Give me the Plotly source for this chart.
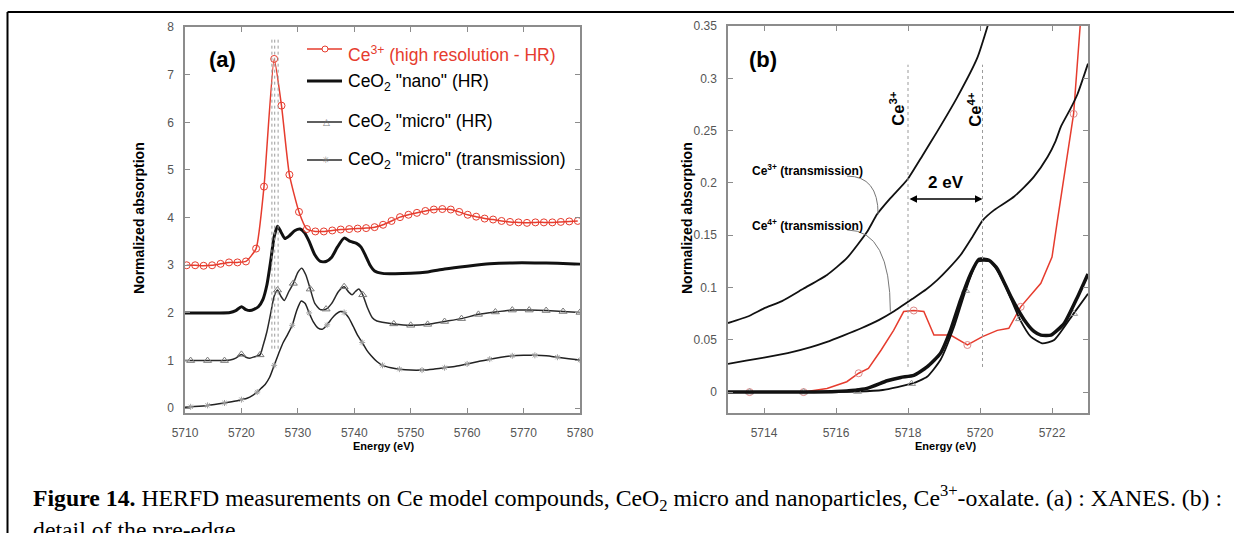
import plotly.graph_objects as go

# ---------------- data : panel (a) XANES (offset curves) ----------------
ce3_hr_a_E = [5710.3, 5711.8, 5713.3, 5714.8, 5716.3, 5717.8, 5719.3, 5720.8, 5722.6, 5724.0,
              5725.8, 5727.1, 5728.5, 5730.2, 5731.6, 5733.1, 5734.6, 5736.1, 5737.6, 5739.1,
              5740.6, 5742.1, 5743.6, 5745.1, 5746.6, 5748.1, 5749.6, 5751.1, 5752.6, 5754.1,
              5755.6, 5757.1, 5758.6, 5760.1, 5761.6, 5763.1, 5764.6, 5766.1, 5767.6, 5769.1,
              5770.6, 5772.1, 5773.6, 5775.1, 5776.6, 5778.1, 5779.6]
ce3_hr_a = [3.00, 3.00, 2.99, 3.00, 3.03, 3.06, 3.06, 3.08, 3.35, 4.65,
            7.33, 6.35, 4.90, 4.12, 3.76, 3.71, 3.71, 3.73, 3.75, 3.76,
            3.77, 3.78, 3.80, 3.85, 3.93, 4.01, 4.06, 4.10, 4.14, 4.17,
            4.18, 4.17, 4.12, 4.06, 4.02, 3.98, 3.96, 3.93, 3.91, 3.90,
            3.89, 3.90, 3.90, 3.90, 3.91, 3.92, 3.93]

nano_a_E = [5710, 5712, 5714, 5716, 5718, 5719, 5720, 5720.8, 5721.5, 5722.3, 5723, 5723.8,
            5724.5, 5725.2, 5725.8, 5726.4, 5727, 5727.7, 5728.5, 5729.5, 5730.4, 5731.2,
            5732, 5733, 5734, 5735, 5736, 5737, 5738.2, 5739.3, 5740.4, 5741.2, 5742,
            5742.8, 5743.6, 5745, 5747, 5750, 5753, 5756, 5760, 5764, 5768, 5772, 5776, 5780]
nano_a = [2.00, 2.00, 2.00, 2.00, 2.01, 2.05, 2.13, 2.07, 2.05, 2.08, 2.13, 2.28,
          2.58, 3.10, 3.60, 3.82, 3.70, 3.56, 3.62, 3.73, 3.76, 3.68,
          3.50, 3.22, 3.08, 3.08, 3.17, 3.38, 3.57, 3.50, 3.46, 3.38, 3.20,
          3.00, 2.88, 2.83, 2.82, 2.83, 2.86, 2.92, 2.98, 3.03, 3.05, 3.05, 3.04, 3.02]

micro_hr_a_E = [5710, 5711, 5714, 5717, 5718, 5719, 5720, 5720.8, 5721.5, 5722.3, 5723.3, 5723.8,
                5724.5, 5725.2, 5725.8, 5726.4, 5727, 5727.6, 5728.4, 5729.2, 5730, 5730.7,
                5731.4, 5732.2, 5733, 5734, 5735, 5736, 5737.2, 5738.2, 5739, 5739.6,
                5740.2, 5740.8, 5741.5, 5742.3, 5743.2, 5744, 5747, 5750, 5753, 5756,
                5759, 5762, 5765, 5768, 5771, 5774, 5777, 5780]
micro_hr_a = [1.00, 1.00, 1.00, 1.00, 1.01, 1.05, 1.13, 1.07, 1.05, 1.08, 1.12, 1.30,
              1.60, 2.00, 2.35, 2.48, 2.35, 2.26, 2.45, 2.62, 2.85, 2.94,
              2.80, 2.50, 2.20, 2.07, 2.08, 2.20, 2.45, 2.55, 2.44, 2.38,
              2.45, 2.50, 2.38, 2.12, 1.90, 1.83, 1.77, 1.74, 1.76, 1.82,
              1.88, 1.97, 2.02, 2.06, 2.06, 2.05, 2.03, 2.01]

micro_tr_a_E = [5710, 5711, 5714, 5717, 5719, 5720, 5721, 5722, 5722.8, 5723.5, 5724.2, 5725,
                5725.8, 5726.6, 5727.4, 5728.2, 5729, 5729.8, 5730.6, 5731.3, 5732, 5732.8,
                5733.6, 5734.4, 5735.2, 5736, 5736.8, 5737.5, 5738.2, 5739, 5739.8, 5740.6,
                5741.4, 5742.2, 5743, 5744, 5745, 5746.5, 5748, 5750, 5752, 5754, 5756,
                5758, 5760, 5762, 5764, 5766, 5768, 5770, 5772, 5774, 5776, 5778, 5780]
micro_tr_a = [0.02, 0.03, 0.06, 0.11, 0.15, 0.18, 0.21, 0.27, 0.34, 0.42, 0.50, 0.65,
              0.90, 1.15, 1.38, 1.55, 1.74, 2.05, 2.25, 2.20, 2.00, 1.80,
              1.68, 1.66, 1.75, 1.88, 1.98, 2.03, 2.01, 1.90, 1.72, 1.53,
              1.38, 1.22, 1.10, 0.98, 0.90, 0.85, 0.82, 0.80, 0.80, 0.82, 0.85,
              0.88, 0.93, 0.98, 1.03, 1.07, 1.10, 1.11, 1.11, 1.10, 1.07, 1.04, 1.01]

# ---------------- data : panel (b) pre-edge detail ----------------
ce3_tr_b_E = [5713.0, 5713.6, 5714.0, 5714.5, 5715.1, 5715.75, 5716.3, 5716.86, 5717.14,
              5717.5, 5717.98, 5718.4, 5718.81, 5719.37, 5719.93, 5720.3]
ce3_tr_b = [0.066, 0.073, 0.080, 0.087, 0.099, 0.112, 0.128, 0.153, 0.170,
            0.185, 0.203, 0.226, 0.249, 0.282, 0.320, 0.360]

ce4_tr_b_E = [5713.0, 5713.5, 5714.0, 5714.8, 5715.3, 5715.75, 5716.2, 5716.7, 5717.2,
              5717.6, 5718.16, 5718.5, 5718.81, 5719.1, 5719.46, 5719.8, 5720.07, 5720.39,
              5720.7, 5720.95, 5721.2, 5721.5, 5721.88, 5722.1, 5722.25, 5722.5, 5722.71, 5723.0]
ce4_tr_b = [0.027, 0.030, 0.033, 0.0385, 0.043, 0.048, 0.054, 0.061, 0.069,
            0.077, 0.090, 0.098, 0.107, 0.117, 0.131, 0.149, 0.164, 0.174,
            0.181, 0.187, 0.195, 0.206, 0.225, 0.240, 0.254, 0.270, 0.285, 0.314]

ce3_hr_b_E = [5713.6, 5715.1, 5715.75, 5716.3, 5716.63, 5716.9, 5717.25, 5717.6, 5717.88,
              5718.16, 5718.44, 5718.72, 5719.18, 5719.65, 5720.07, 5720.48, 5720.8, 5721.13,
              5721.69, 5722.0, 5722.15, 5722.6, 5722.78, 5722.9]
ce3_hr_b = [0.0, 0.0, 0.0035, 0.0099, 0.018, 0.0226, 0.040, 0.059, 0.077,
            0.078, 0.077, 0.0545, 0.0545, 0.045, 0.053, 0.059, 0.061, 0.0815,
            0.104, 0.129, 0.164, 0.266, 0.349, 0.40]

nano_b_E = [5713.0, 5714.0, 5715.0, 5716.0, 5716.86, 5717.42, 5717.8, 5718.16, 5718.53,
            5718.9, 5719.18, 5719.46, 5719.74, 5719.97, 5720.25, 5720.48, 5720.86, 5721.23,
            5721.5, 5721.69, 5721.97, 5722.34, 5722.71, 5723.0]
nano_b = [0.0, 0.0, 0.0, 0.0005, 0.0035, 0.0108, 0.014, 0.016, 0.024,
          0.037, 0.059, 0.088, 0.113, 0.127, 0.126, 0.118, 0.091, 0.069,
          0.058, 0.0545, 0.0545, 0.0657, 0.091, 0.113]

micro_hr_b_E = [5713.0, 5713.6, 5715.1, 5716.6, 5717.3, 5718.1, 5718.53, 5718.9, 5719.28,
                5719.6, 5719.93, 5720.3, 5720.67, 5721.1, 5721.41, 5721.73, 5722.06, 5722.6, 5723.0]
micro_hr_b = [0.0, 0.0, 0.0, 0.0005, 0.002, 0.008, 0.0146, 0.0306, 0.0624,
              0.097, 0.1246, 0.1246, 0.104, 0.070, 0.053, 0.0466, 0.0497, 0.075, 0.094]

# tick labels
xa_ticks = [5710, 5720, 5730, 5740, 5750, 5760, 5770, 5780]
ya_ticks = [0, 1, 2, 3, 4, 5, 6, 7, 8]
xb_ticks = [5714, 5716, 5718, 5720, 5722]
yb_ticks = [0, 0.05, 0.1, 0.15, 0.2, 0.25, 0.3, 0.35]
yb_ticktext = ["0", "0.05", "0.1", "0.15", "0.2", "0.25", "0.3", "0.35"]

# ---------------- styling ----------------
W, H = 1234, 533
RED = "#e63c2e"
GRAY = "#7a7a7a"
LIGHT = "#a0a0a0"
FRAME = "#8c8c8c"
SANS = "Arial, 'Liberation Sans', sans-serif"
SERIF = "'Times New Roman', 'Liberation Serif', serif"


def px(x):
    return x / W


def py(y):
    return 1 - y / H


def thin(xs, ys, gap, start):
    ox, oy, last = [], [], None
    for x, y in zip(xs, ys):
        if x < start:
            continue
        if last is None or x - last >= gap:
            ox.append(x)
            oy.append(y)
            last = x
    return ox, oy


fig = go.Figure()

# ---- panel (a)
fig.add_trace(go.Scatter(x=micro_tr_a_E, y=micro_tr_a, mode="lines", line=dict(color="#222", width=1.5, shape="spline", smoothing=0.6), xaxis="x", yaxis="y"))
mx, my = thin(micro_tr_a_E, micro_tr_a, 2.8, 5711)
fig.add_trace(go.Scatter(x=mx, y=my, mode="markers", marker=dict(symbol="asterisk-open", size=5, color=LIGHT, line=dict(width=1, color=LIGHT)), xaxis="x", yaxis="y"))
fig.add_trace(go.Scatter(x=micro_hr_a_E, y=micro_hr_a, mode="lines", line=dict(color="#2a2a2a", width=1.5, shape="spline", smoothing=0.6), xaxis="x", yaxis="y"))
mx, my = thin(micro_hr_a_E, micro_hr_a, 2.8, 5711)
fig.add_trace(go.Scatter(x=mx, y=my, mode="markers", marker=dict(symbol="triangle-up-open", size=7, color=GRAY, line=dict(width=1, color=GRAY)), xaxis="x", yaxis="y"))
fig.add_trace(go.Scatter(x=nano_a_E, y=nano_a, mode="lines", line=dict(color="#111", width=3, shape="spline", smoothing=0.6), xaxis="x", yaxis="y"))
fig.add_trace(go.Scatter(x=ce3_hr_a_E, y=ce3_hr_a, mode="lines+markers", line=dict(color=RED, width=1.5, shape="spline", smoothing=0.5),
                         marker=dict(symbol="circle-open", size=7, color=RED, line=dict(width=1, color=RED)), xaxis="x", yaxis="y"))

# ---- panel (b)
fig.add_trace(go.Scatter(x=ce3_hr_b_E, y=ce3_hr_b, mode="lines", line=dict(color=RED, width=1.5), xaxis="x2", yaxis="y2"))
mx, my = thin(ce3_hr_b_E, ce3_hr_b, 1.4, 5713.5)
fig.add_trace(go.Scatter(x=mx, y=my, mode="markers", marker=dict(symbol="circle-open", size=7, color="#d88", line=dict(width=1, color="#d88")), xaxis="x2", yaxis="y2"))
fig.add_trace(go.Scatter(x=ce3_tr_b_E, y=ce3_tr_b, mode="lines", line=dict(color="#111", width=1.8, shape="spline", smoothing=0.5), xaxis="x2", yaxis="y2"))
fig.add_trace(go.Scatter(x=ce4_tr_b_E, y=ce4_tr_b, mode="lines", line=dict(color="#111", width=1.8, shape="spline", smoothing=0.5), xaxis="x2", yaxis="y2"))
fig.add_trace(go.Scatter(x=micro_hr_b_E, y=micro_hr_b, mode="lines", line=dict(color="#111", width=1.8, shape="spline", smoothing=0.5), xaxis="x2", yaxis="y2"))
mx, my = thin(micro_hr_b_E, micro_hr_b, 1.4, 5713.5)
fig.add_trace(go.Scatter(x=mx, y=my, mode="markers", marker=dict(symbol="triangle-up-open", size=7, color="#999", line=dict(width=1, color="#999")), xaxis="x2", yaxis="y2"))
fig.add_trace(go.Scatter(x=nano_b_E, y=nano_b, mode="lines", line=dict(color="#111", width=3.5, shape="spline", smoothing=0.5), xaxis="x2", yaxis="y2"))

axis_common = dict(showline=True, linecolor=FRAME, linewidth=1.5, mirror="ticks", ticks="inside", ticklen=5,
                   tickcolor=FRAME, tickwidth=1, showgrid=False, zeroline=False, automargin=False,
                   tickfont=dict(family=SANS, size=12, color="#555"))

fig.update_layout(
    template="none",
    width=W, height=H, autosize=False, margin=dict(l=0, r=0, t=0, b=0, pad=0, autoexpand=False),
    paper_bgcolor="white", plot_bgcolor="white", showlegend=False,
    xaxis=dict(domain=[px(185), px(580)], range=[5710, 5780], tickvals=xa_ticks, anchor="y", ticklabelstandoff=8, **axis_common),
    yaxis=dict(domain=[py(413), py(27)], range=[-0.1, 8], tickvals=ya_ticks, anchor="x", ticklabelstandoff=7, **axis_common),
    xaxis2=dict(domain=[px(728), px(1088)], range=[5713, 5723], tickvals=xb_ticks, anchor="y2", ticklabelstandoff=8, **axis_common),
    yaxis2=dict(domain=[py(413), py(26)], range=[-0.02, 0.35], tickvals=yb_ticks, ticktext=yb_ticktext, anchor="x2", ticklabelstandoff=7, **axis_common),
)

shapes = []
ann = []


def label(x, y, text, size, ref="paper", color="black", angle=0, family=SANS, xa="center", ya="middle"):
    xr = "paper" if ref == "paper" else "x2"
    yr = "paper" if ref == "paper" else "y2"
    ann.append(dict(x=px(x) if ref == "paper" else x, y=py(y) if ref == "paper" else y, xref=xr, yref=yr,
                    xanchor=xa, yanchor=ya, text=text, textangle=angle, showarrow=False,
                    font=dict(family=family, size=size, color=color)))


# outer frame
shapes.append(dict(type="line", xref="paper", yref="paper", x0=px(7.5), x1=1.0, y0=py(12), y1=py(12), line=dict(color="black", width=2)))
shapes.append(dict(type="line", xref="paper", yref="paper", x0=px(7.5), x1=px(7.5), y0=py(12), y1=0, line=dict(color="black", width=2)))

# panel (a) dotted guide lines
for xv in (5725.4, 5725.9, 5726.5):
    shapes.append(dict(type="line", xref="x", yref="y", x0=xv, x1=xv, y0=1.25, y1=7.75, line=dict(color="#9a9a9a", width=1, dash="dot")))

# panel (b) dotted lines
for xv in (5718.0, 5720.07):
    shapes.append(dict(type="line", xref="x2", yref="y2", x0=xv, x1=xv, y0=0.024, y1=0.313, line=dict(color="#9a9a9a", width=1, dash="dot")))

# connectors in panel (b)
shapes.append(dict(type="path", xref="x2", yref="y2", path="M 5716.31,0.2065 Q 5717.17,0.2065 5717.17,0.170", line=dict(color="#777", width=1)))
shapes.append(dict(type="path", xref="x2", yref="y2", path="M 5716.31,0.155 Q 5717.51,0.155 5717.51,0.077", line=dict(color="#777", width=1)))

# 2 eV arrow
ann.append(dict(x=5720.07, y=0.1845, ax=5718.0, ay=0.1845, xref="x2", yref="y2", axref="x2", ayref="y2", text="", showarrow=True,
                arrowhead=2, startarrowhead=2, arrowside="end+start", arrowsize=1, arrowwidth=1.5, arrowcolor="black", standoff=0, startstandoff=0))
label(5719.05, 0.2008, "<b>2 eV</b>", 17, ref="data")
label(5717.71, 0.2715, "<b>Ce<sup>3+</sup></b>", 16.5, ref="data", angle=-90)
label(5719.85, 0.2706, "<b>Ce<sup>4+</sup></b>", 16.5, ref="data", angle=-90)
label(750, 170, "<b>Ce<sup>3+</sup> (transmission)</b>", 12, xa="left")
label(750, 225, "<b>Ce<sup>4+</sup> (transmission)</b>", 12, xa="left")

# panel labels
label(222, 60, "<b>(a)</b>", 22)
label(763, 60, "<b>(b)</b>", 22)

# axis titles
label(383, 446, "<b>Energy (eV)</b>", 11)
label(945, 446, "<b>Energy (eV)</b>", 11)
label(139, 218, "<b>Normalized absorption</b>", 14, angle=-90)
label(687, 218, "<b>Normalized absorption</b>", 14, angle=-90)

# legend (panel a)
legend_rows = [
    (49, 54, RED, 1.5, "circle-open", "Ce<sup>3+</sup> (high resolution - HR)", RED),
    (81, 82, "#111", 3, None, "CeO<sub>2</sub> \"nano\" (HR)", "black"),
    (122, 122, "#2a2a2a", 1.5, "△", "CeO<sub>2</sub> \"micro\" (HR)", "black"),
    (160, 160, "#2a2a2a", 1.5, "✳", "CeO<sub>2</sub> \"micro\" (transmission)", "black"),
]
for ly, ty, col, lw, sym, text, tcol in legend_rows:
    shapes.append(dict(type="line", xref="paper", yref="paper", x0=px(307), x1=px(342), y0=py(ly), y1=py(ly), line=dict(color=col, width=lw)))
    if sym == "circle-open":
        shapes.append(dict(type="circle", xref="paper", yref="paper", x0=px(322), x1=px(328), y0=py(ly + 3), y1=py(ly - 3), line=dict(color=RED, width=1), fillcolor="white"))
    elif sym:
        label(326, ly, sym, 9, color=GRAY, family="DejaVu Sans")
    label(346, ty, text, 17.5, color=tcol, xa="left")

# caption
label(31, 498, "<b>Figure 14.</b> HERFD measurements on Ce model compounds, CeO<sub>2</sub> micro and nanoparticles, Ce<sup>3+</sup>-oxalate. (a) : XANES. (b) :",
      23.75, family=SERIF, xa="left")
label(31, 530, "detail of the pre-edge", 23.75, family=SERIF, xa="left")

fig.update_layout(shapes=shapes, annotations=ann)
fig.write_html("out.html")
